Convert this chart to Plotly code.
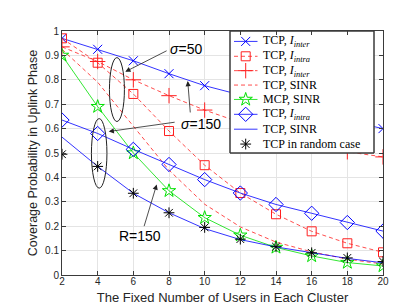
import plotly.graph_objects as go

users = [2, 4, 6, 8, 10, 12, 14, 16, 18, 20]

tcp_inter_blue = [0.97, 0.925, 0.878, 0.825, 0.776, 0.738, 0.70, 0.665, 0.632, 0.60]
tcp_intra_red = [0.97, 0.87, 0.742, 0.59, 0.45, 0.336, 0.249, 0.179, 0.13, 0.093]
tcp_inter_red = [0.935, 0.875, 0.80, 0.735, 0.676, 0.625, 0.58, 0.542, 0.505, 0.484]
tcp_sinr_red = [0.925, 0.79, 0.61, 0.43, 0.29, 0.197, 0.135, 0.095, 0.065, 0.045]
mcp_sinr_green = [0.90, 0.69, 0.50, 0.345, 0.235, 0.163, 0.113, 0.078, 0.051, 0.037]
tcp_intra_blue = [0.635, 0.58, 0.515, 0.453, 0.391, 0.336, 0.289, 0.253, 0.215, 0.18]
tcp_sinr_blue = [0.565, 0.445, 0.335, 0.255, 0.19, 0.145, 0.115, 0.09, 0.068, 0.05]
tcp_random = [0.495, 0.445, 0.335, 0.255, 0.195, 0.147, 0.116, 0.091, 0.07, 0.055]

legend_labels = [
    "TCP, <i>I<sub>inter</sub></i>",
    "TCP, <i>I<sub>intra</sub></i>",
    "TCP, <i>I<sub>inter</sub></i>",
    "TCP, SINR",
    "MCP, SINR",
    "TCP, <i>I<sub>intra</sub></i>",
    "TCP, SINR",
    "TCP in random case",
]

BLUE = "#0000ff"
RED = "#ff2020"
GREEN = "#00e000"
BLACK = "#000000"
RED_DASH = "4px,3px"

series = [
    # values, color, dash, symbol, size, mode
    (tcp_inter_blue, BLUE, "solid", "x-thin-open", 9, "lines+markers"),
    (tcp_intra_red, RED, RED_DASH, "square-open", 9, "lines+markers"),
    (tcp_inter_red, RED, RED_DASH, "cross-thin-open", 11, "lines+markers"),
    (tcp_sinr_red, RED, RED_DASH, "circle", 1, "lines"),
    (mcp_sinr_green, GREEN, "solid", "star-open", 10, "lines+markers"),
    (tcp_intra_blue, BLUE, "solid", "diamond-open", 11, "lines+markers"),
    (tcp_sinr_blue, BLUE, "solid", "circle", 1, "lines"),
    (tcp_random, BLACK, "solid", "asterisk-open", 9, "markers"),
]

fig = go.Figure()

for (vals, color, dash, symbol, size, mode), label in zip(series, legend_labels):
    fig.add_trace(go.Scatter(
        x=users, y=vals, mode=mode, showlegend=False, name=label,
        line=dict(color=color, width=0.8, dash=dash),
        marker=dict(symbol=symbol, size=size, color=color,
                    line=dict(color=color, width=1)),
    ))

# ---- custom legend on an overlay pixel-like axis ----
LX0, LX1 = 222, 366
LY0, LY1 = 23, 146
fig.add_trace(go.Scatter(
    x=[LX0, LX1, LX1, LX0, LX0], y=[LY0, LY0, LY1, LY1, LY0],
    xaxis="x2", yaxis="y2", mode="lines", fill="toself", fillcolor="white",
    line=dict(color="#3a3a3a", width=1), showlegend=False, hoverinfo="skip",
))
row_y = [33.5, 48.5, 63.0, 77.5, 92.0, 107.0, 122.0, 137.0]
annotations = []
for (vals, color, dash, symbol, size, mode), label, ry in zip(series, legend_labels, row_y):
    if mode != "markers":
        fig.add_trace(go.Scatter(
            x=[226, 249.5], y=[ry, ry], xaxis="x2", yaxis="y2", mode="lines",
            line=dict(color=color, width=0.8, dash=dash), showlegend=False, hoverinfo="skip",
        ))
    if mode != "lines":
        fig.add_trace(go.Scatter(
            x=[237.7], y=[ry], xaxis="x2", yaxis="y2", mode="markers",
            marker=dict(symbol=symbol, size=size, color=color, line=dict(color=color, width=1)),
            showlegend=False, hoverinfo="skip",
        ))
    annotations.append(dict(
        x=252.5, y=ry, xref="x2", yref="y2", xanchor="left", yanchor="middle",
        text=label, showarrow=False,
        font=dict(family="Liberation Serif, Times New Roman, serif", size=12, color="#000000"),
    ))

# legend border drawn on top for a crisp frame
fig.add_shape(type="rect", xref="x2", yref="y2", x0=LX0, x1=LX1, y0=LY0, y1=LY1,
              line=dict(color="#3a3a3a", width=1), layer="above")

# ellipses
fig.add_shape(type="circle", xref="x", yref="y", x0=4.66, x1=5.50, y0=0.629, y1=0.891,
              line=dict(color="#222222", width=1))
fig.add_shape(type="circle", xref="x", yref="y", x0=3.65, x1=4.52, y0=0.356, y1=0.641,
              line=dict(color="#222222", width=1))

ann_font = dict(family="Liberation Sans, Arial, sans-serif", size=14, color="#000000")
arrow = dict(xref="x", yref="y", axref="x", ayref="y", text="", showarrow=True,
             arrowhead=2, arrowsize=1.3, arrowwidth=0.8, arrowcolor="#222222")
annotations += [
    dict(arrow, x=5.55, y=0.833, ax=7.95, ay=0.922),
    dict(arrow, x=4.62, y=0.588, ax=8.4, ay=0.627),
    dict(arrow, x=9.05, y=0.795, ax=9.2, ay=0.66),
    dict(arrow, x=7.31, y=0.371, ax=6.58, ay=0.194),
    dict(x=8.93, y=0.925, xref="x", yref="y", text="<i>σ</i>=50", showarrow=False, font=ann_font),
    dict(x=9.78, y=0.62, xref="x", yref="y", text="<i>σ</i>=150", showarrow=False, font=ann_font),
    dict(x=6.36, y=0.16, xref="x", yref="y", text="R=150", showarrow=False, font=ann_font),
]

axis_common = dict(
    showline=True, linecolor="#3a3a3a", linewidth=1, mirror="ticks",
    ticks="inside", ticklen=4, tickcolor="#3a3a3a",
    showgrid=True, gridcolor="#e4e4e4", gridwidth=1, zeroline=False,
    tickfont=dict(family="Liberation Sans, Arial, sans-serif", size=10, color="#262626"),
)

fig.update_layout(
    width=415, height=306,
    margin=dict(l=54, r=40, t=23, b=37),
    paper_bgcolor="white", plot_bgcolor="white",
    showlegend=False,
    annotations=annotations,
    xaxis=dict(axis_common, range=[2, 20], tickvals=users, ticktext=[str(u) for u in users],
               ticklabelstandoff=-3,
               title=dict(text="The Fixed Number of Users in Each Cluster", standoff=6,
                          font=dict(family="Liberation Sans, Arial, sans-serif", size=13, color="#262626"))),
    yaxis=dict(axis_common, range=[0, 1], tickvals=[0, 0.1, 0.2, 0.3, 0.4, 0.5, 0.6, 0.7, 0.8, 0.9, 1],
               ticktext=["0", "0.1", "0.2", "0.3", "0.4", "0.5", "0.6", "0.7", "0.8", "0.9", "1"],
               title=dict(text="Coverage Probability in Uplink Phase", standoff=4,
                          font=dict(family="Liberation Sans, Arial, sans-serif", size=12.5, color="#262626"))),
    xaxis2=dict(overlaying="x", range=[54, 375], visible=False, fixedrange=True),
    yaxis2=dict(overlaying="y", range=[269, 23], visible=False, fixedrange=True),
)

fig.write_html("out.html")
